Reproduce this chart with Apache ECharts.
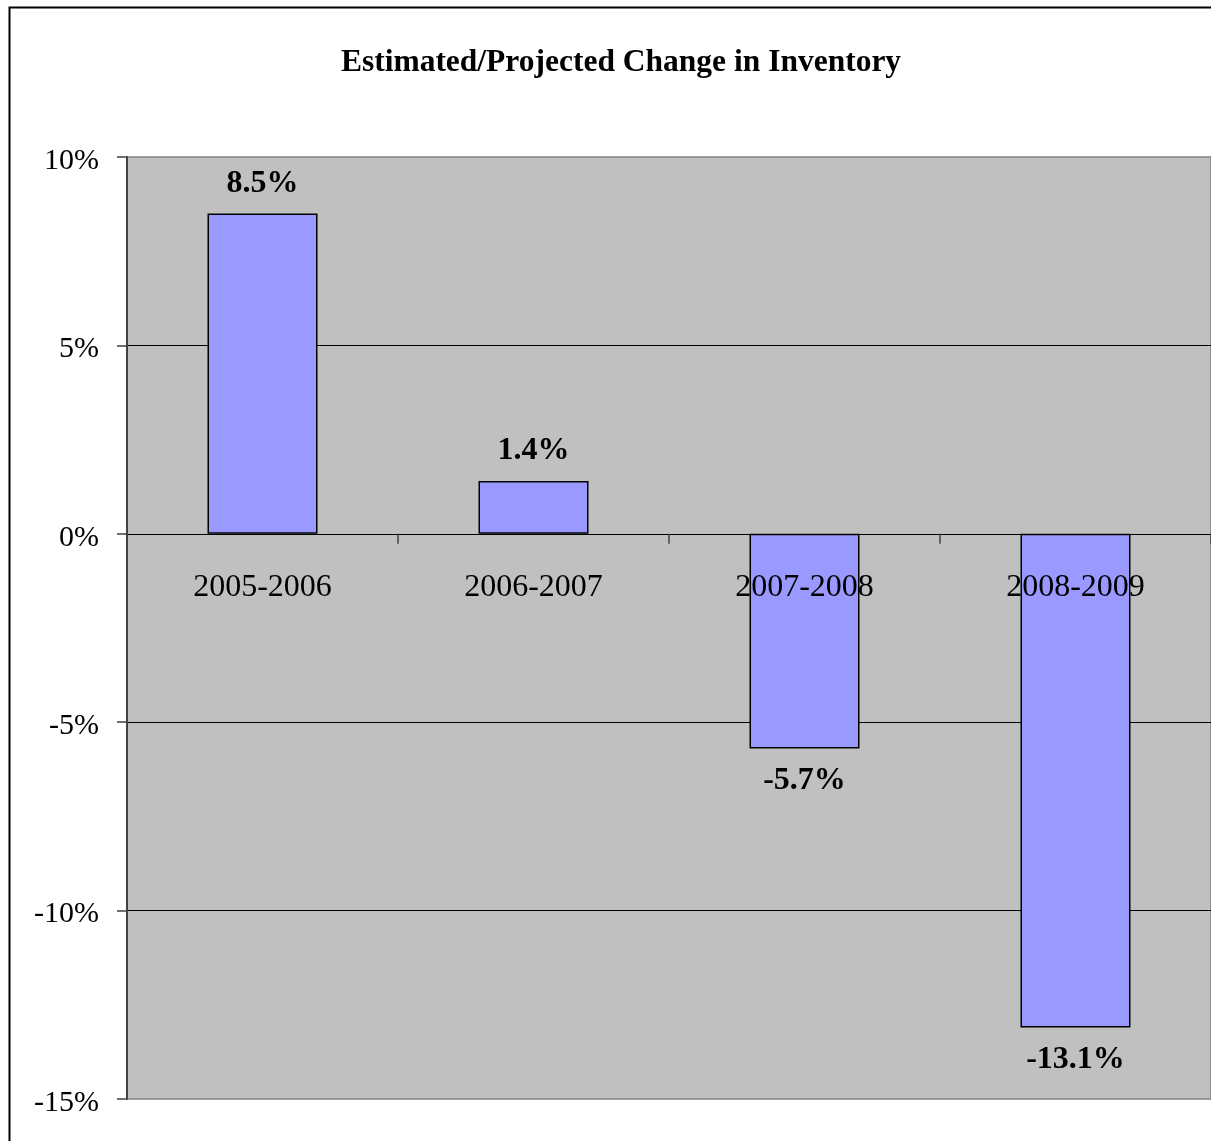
<!DOCTYPE html>
<html>
<head>
<meta charset="utf-8">
<style>
  html, body { margin: 0; padding: 0; background: #ffffff; overflow: hidden; }
  #chart { width: 1211px; height: 1141px; }
</style>
<script src="https://cdn.jsdelivr.net/npm/echarts@6/dist/echarts.min.js"></script>
</head>
<body>
<div id="chart"></div>
<script>
// Inventory change per period (percent)
const periods = ['2005-2006', '2006-2007', '2007-2008', '2008-2009'];
const changePct = [8.5, 1.4, -5.7, -13.1];
const yTicks = { min: -15, max: 10, step: 5 };

const serif = '"Liberation Serif", "Times New Roman", serif';

// plot area box
const gridBox = { left: 127, top: 157, right: 0, bottom: 42 };
const plotHeight = 1141 - gridBox.top - gridBox.bottom;
// the category axis sits on the zero line: shift it up from the bottom edge
const zeroOffset = -plotHeight * (0 - yTicks.min) / (yTicks.max - yTicks.min);

const chart = echarts.init(document.getElementById('chart'), null, { renderer: 'canvas' });

const barData = changePct.map(v => ({
  value: v,
  label: { position: v >= 0 ? 'top' : 'bottom', distance: v >= 0 ? 14 : 16 }
}));

chart.setOption({
  animation: false,
  backgroundColor: '#ffffff',
  title: {
    text: 'Estimated/Projected Change in Inventory',
    left: 616,
    top: 42,
    textAlign: 'center',
    textStyle: { fontFamily: serif, fontWeight: 'bold', fontSize: 31.5, color: '#000' }
  },
  graphic: [{
    type: 'rect',
    shape: { x: 9.5, y: 7.5, width: 1230, height: 1160 },
    style: { fill: 'none', stroke: '#000', lineWidth: 2 },
    silent: true,
    z: 100
  }],
  grid: Object.assign({}, gridBox, {
    outerBoundsMode: 'none',
    containLabel: false,
    show: true,
    backgroundColor: '#C0C0C0',
    borderColor: '#808080',
    borderWidth: 1.5
  }),
  xAxis: {
    type: 'category',
    data: periods,
    position: 'bottom',
    offset: zeroOffset,
    z: 5,
    axisLine: { onZero: false, lineStyle: { color: '#000', width: 1 } },
    axisTick: { show: true, length: 10, lineStyle: { color: '#404040', width: 1.5 } },
    axisLabel: { fontFamily: serif, fontSize: 32, color: '#000', margin: 38 },
    splitLine: { show: false }
  },
  yAxis: {
    type: 'value',
    min: yTicks.min,
    max: yTicks.max,
    interval: yTicks.step,
    axisLine: { show: true, lineStyle: { color: '#404040', width: 2 } },
    axisTick: { show: true, length: 10, lineStyle: { color: '#404040', width: 1.5 } },
    axisLabel: {
      color: '#000', margin: 28,
      formatter: v => '{t|' + v + '%}',
      rich: { t: { fontFamily: serif, fontSize: 30, color: '#000', padding: [8, 0, 0, 0] } }
    },
    splitLine: { show: true, showMinLine: false, showMaxLine: false, lineStyle: { color: '#000', width: 1 } }
  },
  series: [{
    type: 'bar',
    data: barData,
    barWidth: 110,
    itemStyle: { color: '#9999FF', borderColor: '#000', borderWidth: 1.5 },
    label: {
      show: true,
      fontFamily: serif,
      fontWeight: 'bold',
      fontSize: 32,
      color: '#000',
      formatter: p => p.value.toFixed(1) + '%'
    }
  }]
});
</script>
</body>
</html>
